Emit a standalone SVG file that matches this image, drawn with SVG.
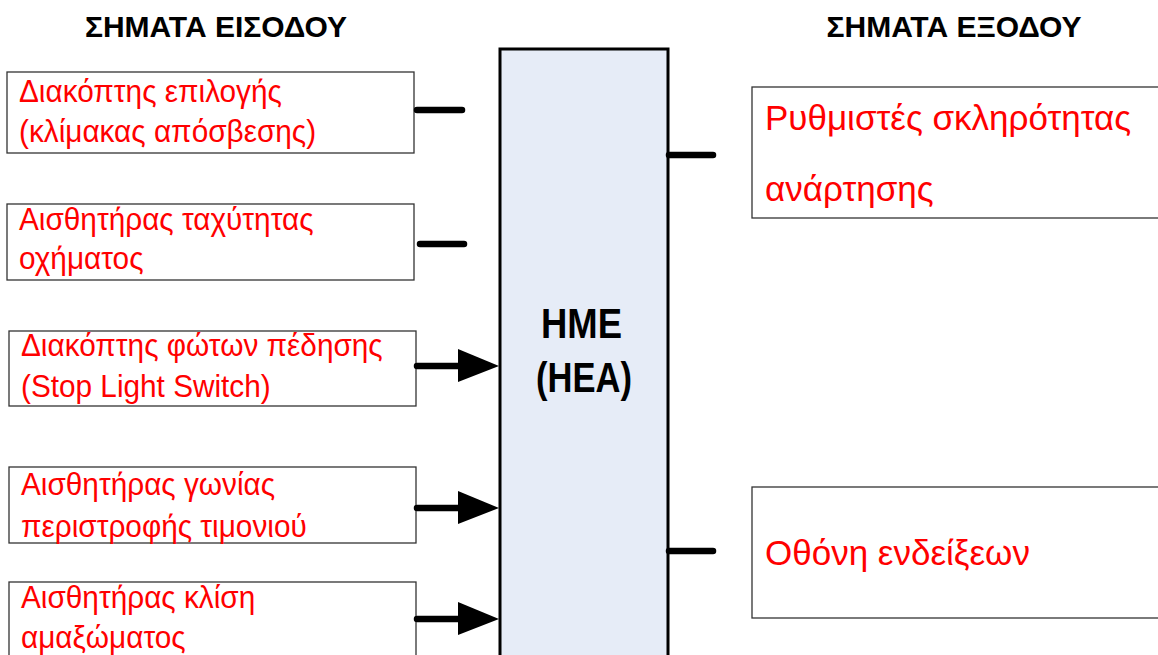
<svg xmlns="http://www.w3.org/2000/svg" width="1158" height="655" viewBox="0 0 1158 655">
<style>
.hd{font-family:"Liberation Sans",Arial,sans-serif;font-weight:bold;font-size:30px;fill:#000;text-anchor:middle}
.box{fill:#fff;stroke:#333;stroke-width:1.3}
.in{font-family:"Liberation Sans",Arial,sans-serif;font-size:32px;fill:#ff0000}
.out{font-family:"Liberation Sans",Arial,sans-serif;font-size:35px;fill:#ff0000}
.ln{stroke:#000;stroke-width:6.5;stroke-linecap:round;fill:none}
.ah{fill:#000}
.ecu{fill:#e6ecf7;stroke:#000;stroke-width:3}
.ecut{font-family:"Liberation Sans",Arial,sans-serif;font-weight:bold;fill:#000;text-anchor:middle}
</style>
<rect width="1158" height="655" fill="#fff"/>
<text class="hd" x="216" y="37">ΣΗΜΑΤΑ ΕΙΣΟΔΟΥ</text>
<text class="hd" x="954" y="37">ΣΗΜΑΤΑ ΕΞΟΔΟΥ</text>

<g id="ecu">
<rect class="ecu" x="500" y="49" width="168" height="640"/>
<text class="ecut" x="581.5" y="338" font-size="42" textLength="81" lengthAdjust="spacingAndGlyphs">HME</text>
<text class="ecut" x="584" y="392" font-size="43" textLength="96" lengthAdjust="spacingAndGlyphs">(HEA)</text>
</g>

<g id="in1">
<rect class="box" x="7" y="72" width="407" height="81"/>
<text class="in" transform="translate(19,102) scale(0.93,1)">Διακόπτης επιλογής</text>
<text class="in" transform="translate(19,142) scale(0.93,1)">(κλίμακας απόσβεσης)</text>
</g>
<g id="in2">
<rect class="box" x="7" y="204" width="407" height="76"/>
<text class="in" transform="translate(19,230) scale(0.93,1)">Αισθητήρας ταχύτητας</text>
<text class="in" transform="translate(19,269) scale(0.93,1)">οχήματος</text>
</g>
<g id="in3">
<rect class="box" x="9" y="331" width="407" height="75"/>
<text class="in" transform="translate(21,356) scale(0.93,1)">Διακόπτης φώτων πέδησης</text>
<text class="in" transform="translate(21,397) scale(0.93,1)">(Stop Light Switch)</text>
</g>
<g id="in4">
<rect class="box" x="9" y="467" width="407" height="76"/>
<text class="in" transform="translate(21,495) scale(0.93,1)">Αισθητήρας γωνίας</text>
<text class="in" transform="translate(21,537) scale(0.93,1)">περιστροφής τιμονιού</text>
</g>
<g id="in5">
<rect class="box" x="9" y="582" width="407" height="120"/>
<text class="in" transform="translate(21,608) scale(0.93,1)">Αισθητήρας κλίση</text>
<text class="in" transform="translate(21,648) scale(0.93,1)">αμαξώματος</text>
</g>

<g id="out1">
<rect class="box" x="752" y="87" width="420" height="131"/>
<text class="out" x="765" y="130">Ρυθμιστές σκληρότητας</text>
<text class="out" x="765" y="201">ανάρτησης</text>
</g>
<g id="out2">
<rect class="box" x="752" y="487" width="420" height="131"/>
<text class="out" x="765" y="565">Οθόνη ενδείξεων</text>
</g>

<g id="connectors">
<line class="ln" x1="417" y1="110" x2="462" y2="110"/>
<line class="ln" x1="420" y1="244" x2="464" y2="244"/>
<line class="ln" x1="417" y1="366" x2="462" y2="366"/>
<polygon class="ah" points="458,349 499,366 458,382"/>
<line class="ln" x1="417" y1="508" x2="462" y2="508"/>
<polygon class="ah" points="458,491 499,508 458,524"/>
<line class="ln" x1="417" y1="619" x2="462" y2="619"/>
<polygon class="ah" points="458,602 499,619 458,635"/>
<line class="ln" x1="669" y1="155" x2="713" y2="155"/>
<line class="ln" x1="669" y1="551" x2="713" y2="551"/>
</g>
</svg>
